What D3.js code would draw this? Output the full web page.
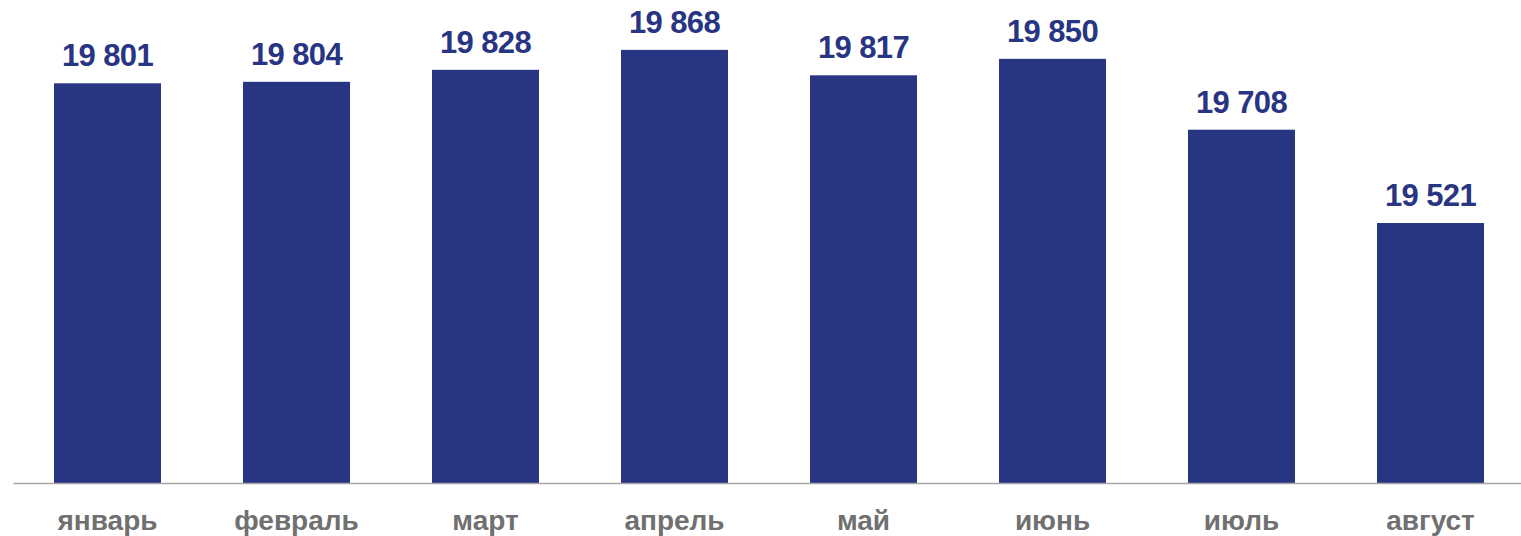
<!DOCTYPE html>
<html>
<head>
<meta charset="utf-8">
<script src="https://cdn.jsdelivr.net/npm/d3@7"></script>
<style>
  body { margin: 0; background: #fff; }
  svg { display: block; }
</style>
</head>
<body>
<div id="chart"></div>
<script>
// data
var months = ["январь", "февраль", "март", "апрель", "май", "июнь", "июль", "август"];
var values = [19801, 19804, 19828, 19868, 19817, 19850, 19708, 19521];

var svgWidth = 1521, svgHeight = 536;
var barColor = "#283583";

var svg = d3.select("#chart")
    .append("svg")
        .attr("width", svgWidth)
        .attr("height", svgHeight);

// x scale
var x = d3.scaleBand()
    .domain(months)
    .range([13, 1525])
    .paddingInner(0.434)
    .paddingOuter(0.217);

// y scale, axis starts at 19 000
var y = d3.scaleLinear()
    .domain([19000, 20000])
    .range([483, -16]);

// bars
svg.selectAll(".bar")
    .data(values)
    .enter()
    .append("rect")
        .attr("class", "bar")
        .attr("x", function(d, i) { return x(months[i]); })
        .attr("y", function(d) { return y(d); })
        .attr("width", x.bandwidth())
        .attr("height", function(d) { return y(19000) - y(d); })
        .attr("fill", barColor);

// value labels
var fmt = function(v) { return d3.format(",")(v).replace(",", " "); };
svg.selectAll(".val")
    .data(values)
    .enter()
    .append("text")
        .attr("class", "val")
        .attr("x", function(d, i) { return x(months[i]) + x.bandwidth() / 2; })
        .attr("y", function(d) { return y(d) - 17; })
        .attr("text-anchor", "middle")
        .attr("font-family", "Liberation Sans, Arial, sans-serif")
        .attr("font-weight", "bold")
        .attr("font-size", 31)
        .attr("letter-spacing", -0.6)
        .attr("fill", barColor)
        .text(fmt);

// x axis
var xAxis = d3.axisBottom(x).tickSize(0).tickPadding(27);
var gx = svg.append("g")
    .attr("transform", "translate(0," + y(19000) + ")")
    .call(xAxis);
gx.select(".domain").attr("stroke", "#a6a6a6").attr("stroke-width", 1.5);
gx.selectAll("text")
    .attr("font-family", "Liberation Sans, Arial, sans-serif")
    .attr("font-weight", "bold")
    .attr("font-size", 28)
    .attr("fill", "#707070");
</script>
</body>
</html>
